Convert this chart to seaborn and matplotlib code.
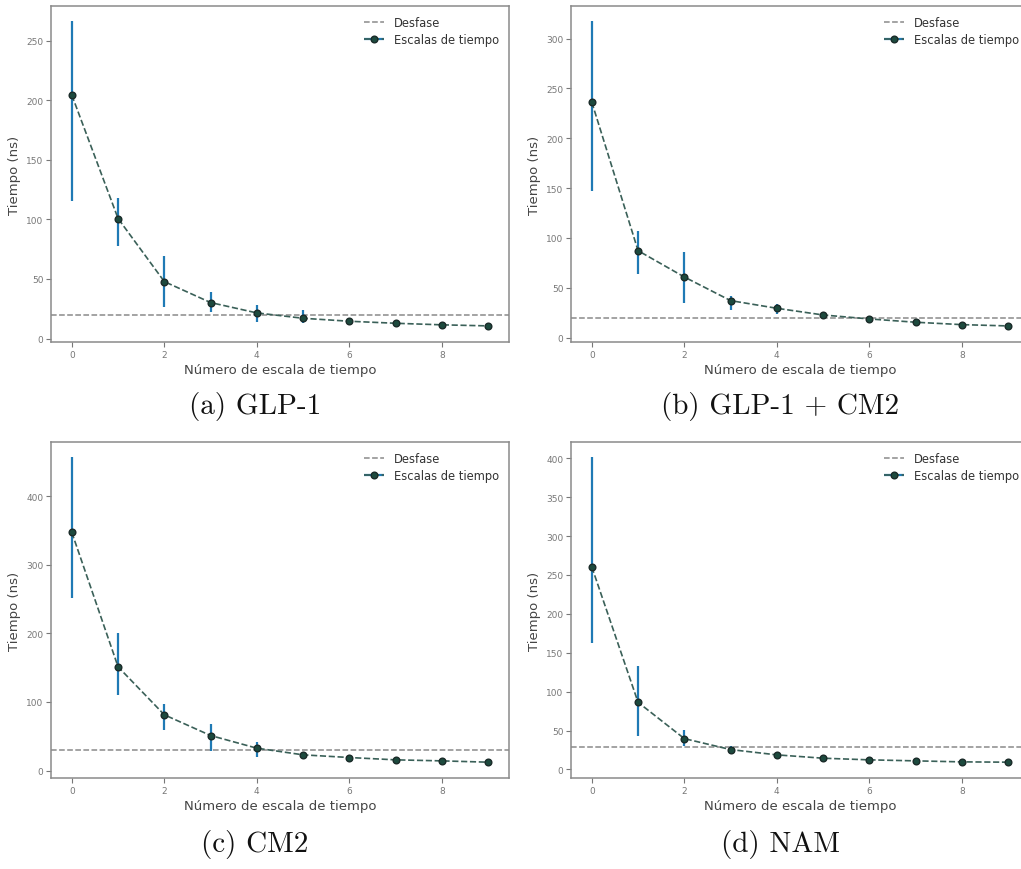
import matplotlib
matplotlib.use("Agg")
import matplotlib.pyplot as plt
import seaborn as sns
import numpy as np
import pandas as pd

# Escalas de tiempo por sistema (ns) y barras de error asimétricas
escalas = list(range(10))

glp1_tiempo = [204.5, 100.8, 47.8, 30.2, 21.5, 17.0, 14.5, 12.8, 11.5, 10.6]
glp1_sup = [266.5, 118.4, 69.0, 39.1, 27.9, 24.3, 16.5, 14.0, 12.5, 11.4]
glp1_inf = [115.6, 77.9, 26.3, 22.0, 14.0, 13.0, 13.0, 11.8, 10.6, 9.9]
glp1_desfase = 19.8

glp1cm2_tiempo = [236.2, 87.2, 60.8, 37.1, 29.4, 22.7, 18.7, 15.4, 13.0, 11.7]
glp1cm2_sup = [317.4, 107.3, 85.5, 41.8, 33.4, 26.0, 21.5, 17.0, 14.2, 12.6]
glp1cm2_inf = [147.0, 63.5, 34.4, 27.7, 23.4, 19.4, 16.0, 13.9, 11.9, 10.9]
glp1cm2_desfase = 20.0

cm2_tiempo = [347.4, 151.3, 81.3, 51.1, 32.6, 22.9, 19.0, 15.6, 14.1, 12.2]
cm2_sup = [457.0, 201.0, 96.8, 67.6, 41.4, 26.0, 21.0, 17.0, 15.2, 13.0]
cm2_inf = [251.6, 109.5, 59.4, 28.7, 20.0, 20.0, 17.0, 14.2, 13.0, 11.4]
cm2_desfase = 29.7

nam_tiempo = [260.3, 86.3, 39.7, 25.6, 18.8, 14.5, 12.4, 11.1, 9.8, 9.4]
nam_sup = [401.3, 132.9, 51.3, 29.9, 21.0, 16.0, 13.5, 12.0, 10.6, 10.1]
nam_inf = [162.4, 42.7, 29.9, 21.4, 16.6, 13.0, 11.3, 10.2, 9.0, 8.7]
nam_desfase = 29.1

titulos = ["(a) GLP-1", "(b) GLP-1 + CM2", "(c) CM2", "(d) NAM"]

sistemas = [
    (glp1_tiempo, glp1_sup, glp1_inf, glp1_desfase),
    (glp1cm2_tiempo, glp1cm2_sup, glp1cm2_inf, glp1cm2_desfase),
    (cm2_tiempo, cm2_sup, cm2_inf, cm2_desfase),
    (nam_tiempo, nam_sup, nam_inf, nam_desfase),
]

sns.set_theme(style="ticks")
plt.rcParams["font.family"] = ["DejaVu Sans"]

W, H = 1021, 870
fig = plt.figure(figsize=(W / 100, H / 100), dpi=100)

# Cajas de los ejes en píxeles: (izquierda, arriba, derecha, abajo)
cajas = [
    (51, 7, 509, 343),
    (571, 7, 1029, 343),
    (51, 443, 509, 779),
    (571, 443, 1029, 779),
]
centros_titulo = [(255, 407), (780, 407), (255, 845), (780, 845)]

azul = "#1f7ab5"
linea = "#3a6058"
marca = "#1d4a3e"
gris = "#8a8a8a"

for (tiempo, sup, inf, desfase), caja, titulo, centro in zip(sistemas, cajas, titulos, centros_titulo):
    l, t, r, b = caja
    ax = fig.add_axes([l / W, 1 - b / H, (r - l) / W, (b - t) / H])
    df = pd.DataFrame({"escala": escalas, "tiempo": tiempo})
    tiempo_arr = np.array(tiempo)
    yerr = np.vstack([tiempo_arr - np.array(inf), np.array(sup) - tiempo_arr])

    barras = ax.errorbar(escalas, tiempo, yerr=yerr, fmt="none", ecolor=azul,
                         elinewidth=1.6, capsize=0, zorder=2)
    hl = ax.axhline(desfase, color=gris, ls="--", lw=1.1, zorder=1, label="Desfase")
    sns.lineplot(data=df, x="escala", y="tiempo", ax=ax, color=linea, lw=1.2,
                 linestyle="--", marker="o", markersize=4.8, markerfacecolor=marca,
                 markeredgecolor="#1a2a28", markeredgewidth=1.0, zorder=3)
    ln = ax.lines[-1]

    ax.set_xlabel("Número de escala de tiempo", fontsize=9.5, color="#444444", labelpad=3)
    ax.set_ylabel("Tiempo (ns)", fontsize=9.5, color="#444444", labelpad=4)
    ax.tick_params(axis="both", labelsize=6.5, colors="#777777", length=3.5, width=0.8, pad=2)
    for s in ax.spines.values():
        s.set_color(gris)
        s.set_linewidth(1.1)
    ax.legend([hl, (barras.lines[2][0], ln)], ["Desfase", "Escalas de tiempo"],
              loc="upper right", fontsize=8.3, frameon=False, borderaxespad=0.5,
              labelspacing=0.3, handlelength=1.8, labelcolor="#333333")

    fig.text(centro[0] / W, 1 - centro[1] / H, titulo, ha="center", va="center",
             fontsize=21, family="cmr10", color="#111111")

fig.savefig("out.png", dpi=100)
